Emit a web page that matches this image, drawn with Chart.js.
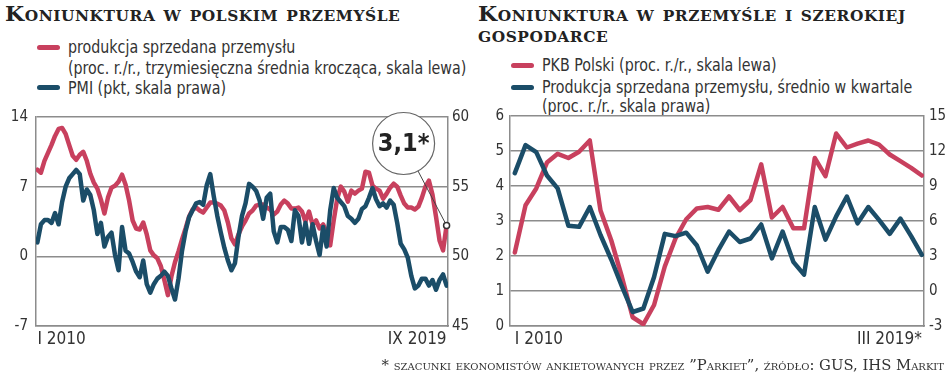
<!DOCTYPE html>
<html>
<head>
<meta charset="utf-8">
<script src="https://cdn.jsdelivr.net/npm/chart.js@4.4.1/dist/chart.umd.min.js"></script>
<style>
  body { margin: 0; background: #fff; }
  #wrap { position: relative; width: 948px; height: 375px; overflow: hidden; font-family: "DejaVu Sans Condensed", "DejaVu Sans", sans-serif; color: #333; }
  .title { position: absolute; font-family: "DejaVu Serif", serif; font-weight: bold; font-variant: small-caps; font-size: 20px; letter-spacing: 0.5px; line-height: 21px; color: #222; white-space: nowrap; transform: scaleX(1.1); transform-origin: left top; }
  .lg { position: absolute; font-size: 18px; line-height: 20px; white-space: nowrap; color: #333; transform: scaleX(0.88); transform-origin: left center; }
  .sw { position: absolute; width: 23px; height: 5px; border-radius: 3px; }
  .note { position: absolute; font-family: "DejaVu Serif", serif; font-variant: small-caps; font-size: 14.8px; color: #333; white-space: nowrap; }
  canvas { position: absolute; }
</style>
</head>
<body>
<div id="wrap">
  <div class="title" style="left:5px; top:4px;">Koniunktura w polskim przemyśle</div>
  <div class="sw" style="left:37px; top:45px; background:#c8405e;"></div>
  <div class="lg" style="left:68px; top:37px;">produkcja sprzedana przemysłu</div>
  <div class="lg" style="left:68px; top:58px;">(proc. r./r., trzymiesięczna średnia krocząca, skala lewa)</div>
  <div class="sw" style="left:37px; top:85px; background:#1b4d68;"></div>
  <div class="lg" style="left:68px; top:78px;">PMI (pkt, skala prawa)</div>

  <div class="title" style="left:478px; top:4px;">Koniunktura w przemyśle i szerokiej<br>gospodarce</div>
  <div class="sw" style="left:511px; top:63px; background:#c8405e;"></div>
  <div class="lg" style="left:542px; top:55px;">PKB Polski (proc. r./r., skala lewa)</div>
  <div class="sw" style="left:511px; top:85px; background:#1b4d68;"></div>
  <div class="lg" style="left:542px; top:77px;">Produkcja sprzedana przemysłu, średnio w kwartale</div>
  <div class="lg" style="left:542px; top:96px;">(proc. r./r., skala prawa)</div>

  <canvas id="left" width="480" height="262" style="left:0; top:100px;"></canvas>
  <canvas id="right" width="474" height="262" style="left:474px; top:100px;"></canvas>

  <div class="note" style="right:4px; top:356px;">* szacunki ekonomistów ankietowanych przez ”Parkiet”, źródło: GUS, IHS Markit</div>
</div>

<script>
// Wykres 1: miesięcznie, I 2010 - IX 2019
const monthTicks = ['I 2010', 'IX 2019'];
const produkcja = [8.7,8.4,9.6,10.4,11.2,12.1,12.8,12.9,12.3,11.2,
  10.1,9.7,10.2,10.5,9.6,8.3,7.4,6.8,5.7,4.3,
  5.9,6.9,7.1,7.5,8.2,7.2,5.6,3.6,2.8,2.7,
  3.4,2.2,0.6,0.1,-0.2,-1.0,-2.4,-3.9,-2.0,-0.6,
  0.5,1.7,2.8,4.0,4.7,4.9,4.6,4.4,4.9,5.4,
  5.4,5.3,5.1,4.6,3.4,1.8,1.2,2.2,3.0,3.6,
  4.3,4.6,5.1,5.2,5.2,4.9,4.7,4.2,4.5,5.2,
  5.6,5.3,4.8,4.8,4.9,4.5,3.5,4.5,3.2,3.6,
  2.8,3.2,2.4,1.1,3.6,5.8,7.0,6.5,5.5,6.6,
  6.3,6.6,6.8,8.5,8.4,7.1,6.8,6.6,5.8,6.3,
  6.9,7.3,7.0,6.1,5.3,4.9,4.9,4.7,5.0,5.9,
  7.0,7.6,6.2,4.0,1.6,0.6,3.1];
const pmi = [51.0,52.3,52.6,52.6,52.4,53.1,52.3,53.9,55.0,55.6,
  55.9,56.2,55.9,54.0,54.8,54.4,53.3,51.6,52.4,50.7,
  51.4,51.7,50.1,49.0,52.1,50.4,50.2,49.6,48.9,48.5,
  49.7,48.0,47.4,48.0,48.4,48.6,48.9,48.6,47.7,46.9,
  48.4,50.4,51.8,52.8,53.3,53.8,53.9,53.7,55.1,55.9,
  54.3,52.9,51.7,50.6,49.7,49.0,49.5,51.4,52.9,53.8,
  55.2,55.0,54.7,54.0,52.7,54.2,54.5,51.8,51.0,52.1,
  52.1,51.9,51.1,53.3,52.9,51.0,52.4,50.9,52.3,51.1,
  50.1,52.1,50.7,53.3,54.9,54.2,53.9,53.6,52.9,52.7,
  52.4,52.7,53.4,53.6,54.2,54.9,54.1,53.6,53.8,53.5,
  54.0,53.7,52.4,50.9,50.5,49.9,48.6,47.7,47.9,48.4,
  48.4,47.9,48.3,47.6,48.3,48.7,47.9];
const forecastLabel = '3,1*';

// Wykres 2: kwartalnie, I 2010 - III 2019
const quarterTicks = ['I 2010', 'III 2019*'];
const pkb = [2.1,3.45,3.93,4.67,4.92,4.8,4.98,5.3,3.3,2.45,
  1.4,0.25,0.05,0.6,1.7,2.5,3.05,3.36,3.4,3.32,
  3.7,3.31,3.6,4.62,3.1,3.4,2.79,2.79,4.8,4.28,
  5.5,5.1,5.21,5.3,5.18,4.9,4.71,4.52,4.3];
const prodKw = [10.1,12.5,11.9,9.9,8.8,5.6,5.5,7.2,4.8,2.7,
  0.4,-1.8,-1.5,1.2,4.9,4.7,5.0,3.9,1.65,3.5,
  5.1,4.2,4.5,5.7,2.8,5.1,2.5,1.4,7.2,4.4,
  6.4,8.1,5.8,7.2,6.1,4.9,6.2,4.7,3.1];

const RED = '#c8405e';
const BLUE = '#1b4d68';
const GRID = '#8c8c8c';
const FONT = '"DejaVu Sans Condensed", "DejaVu Sans", sans-serif';

const pts = arr => arr.map((v, i) => ({ x: i, y: v }));

function lineDs(data, color, axis, order) {
  return {
    data: pts(data), yAxisID: axis, borderColor: color, borderWidth: 4.5,
    pointRadius: 0, tension: 0, borderJoinStyle: 'round', borderCapStyle: 'round', order: order
  };
}

function xAxis(min, max, labels, n) {
  return {
    type: 'linear', min: min, max: max,
    grid: { display: false, drawTicks: false },
    border: { display: true, color: GRID, width: 1.5 },
    afterBuildTicks: s => { s.ticks = [{ value: 0 }, { value: n - 1 }]; },
    afterFit: s => { s.height = 36; },
    ticks: {
      autoSkip: false, maxRotation: 0, align: 'inner', padding: 3, color: '#333',
      font: { family: FONT, size: 17 },
      callback: (v) => v === 0 ? labels[0] : labels[1]
    }
  };
}

function yAxis(pos, min, max, step, width, pad, grid) {
  return {
    position: pos, min: min, max: max,
    afterFit: s => { s.width = width; },
    grid: grid ? { color: GRID, lineWidth: 1.5, drawTicks: false } : { drawOnChartArea: false, drawTicks: false },
    border: { display: true, color: GRID, width: 1.5 },
    ticks: { stepSize: step, padding: pad, color: '#333', font: { family: FONT, size: 15 } }
  };
}

// dymek z prognoza dla ostatniego punktu
const forecastBubble = {
  id: 'forecastBubble',
  afterDatasetsDraw(chart) {
    const ctx = chart.ctx;
    const last = produkcja.length - 1;
    const px = chart.scales.x.getPixelForValue(last);
    const py = chart.scales.yL.getPixelForValue(produkcja[last]);
    const cx = px - 43, cy = py - 82, r = 31;
    const dx = px - cx, dy = py - cy, len = Math.hypot(dx, dy);
    ctx.save();
    ctx.strokeStyle = '#444';
    ctx.lineWidth = 1;
    ctx.beginPath();
    ctx.moveTo(cx + dx / len * r, cy + dy / len * r);
    ctx.lineTo(px, py);
    ctx.stroke();
    ctx.beginPath();
    ctx.arc(cx, cy, r, 0, Math.PI * 2);
    ctx.fillStyle = '#fff';
    ctx.fill();
    ctx.strokeStyle = '#666';
    ctx.lineWidth = 1.2;
    ctx.stroke();
    ctx.fillStyle = '#222';
    ctx.font = 'bold 25px ' + FONT;
    ctx.textAlign = 'center';
    ctx.textBaseline = 'middle';
    ctx.fillText(forecastLabel, cx, cy + 1);
    ctx.beginPath();
    ctx.arc(px, py, 3, 0, Math.PI * 2);
    ctx.fillStyle = '#fff';
    ctx.fill();
    ctx.strokeStyle = '#333';
    ctx.lineWidth = 1.5;
    ctx.stroke();
    ctx.restore();
  }
};

const common = {
  responsive: false, animation: false, devicePixelRatio: 1,
  plugins: { legend: { display: false }, tooltip: { enabled: false } }
};

new Chart(document.getElementById('left'), {
  type: 'line',
  data: { datasets: [lineDs(produkcja, RED, 'yL', 2), lineDs(pmi, BLUE, 'yR', 1)] },
  options: Object.assign({}, common, {
    layout: { padding: { top: 16 } },
    scales: {
      x: xAxis(-0.4, 116.4, monthTicks, produkcja.length),
      yL: yAxis('left', -7, 14, 7, 36, 8, true),
      yR: yAxis('right', 45, 60, 5, 32, 4, false)
    }
  }),
  plugins: [forecastBubble]
});

new Chart(document.getElementById('right'), {
  type: 'line',
  data: { datasets: [lineDs(pkb, RED, 'yL', 2), lineDs(prodKw, BLUE, 'yR', 1)] },
  options: Object.assign({}, common, {
    layout: { padding: { top: 16 } },
    scales: {
      x: xAxis(-0.45, 38.2, quarterTicks, pkb.length),
      yL: yAxis('left', 0, 6, 1, 36, 6, true),
      yR: yAxis('right', -3, 15, 3, 24, 5, false)
    }
  })
});
</script>
</body>
</html>
